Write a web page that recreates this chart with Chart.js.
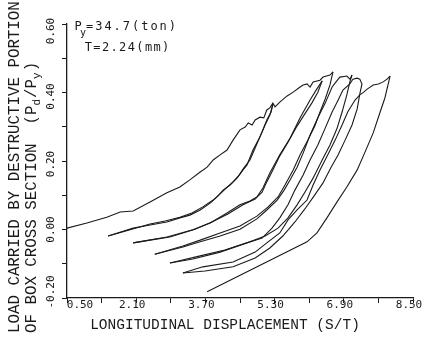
<!DOCTYPE html>
<html>
<head>
<meta charset="utf-8">
<script src="https://cdn.jsdelivr.net/npm/chart.js@4.4.0/dist/chart.umd.min.js"></script>
<style>
  html, body { margin: 0; padding: 0; background: #fff; }
  #wrap { width: 422px; height: 341px; }
</style>
</head>
<body>
<div id="wrap"><canvas id="myChart" width="422" height="341"></canvas></div>
<script>
// axis ticks and labels
const xTickValues = [0.5, 1.3, 2.1, 2.9, 3.7, 4.5, 5.3, 6.1, 6.9, 7.7, 8.5]
const xLabelValues = [0.5, 2.1, 3.7, 5.3, 6.9, 8.5]
const xLabels = ['0.50', '2.10', '3.70', '5.30', '6.90', '8.50']
const yTickValues = [-0.2, -0.1, 0, 0.1, 0.2, 0.3, 0.4, 0.5, 0.6]
const yLabelValues = [-0.2, 0, 0.2, 0.4, 0.6]
const yLabels = ['-0.20', '0.00', '0.20', '0.40', '0.60']

// first loading (envelope) up to the first big peak
const envelope = [[0.50,0.004],[0.96,0.019],[1.42,0.036],[1.73,0.051],[2.03,0.054],[2.42,0.080],
  [2.81,0.107],[3.11,0.124],[3.34,0.145],[3.58,0.168],[3.74,0.182],[3.88,0.203],[4.04,0.218],
  [4.20,0.232],[4.34,0.261],[4.50,0.291],[4.62,0.299],[4.69,0.311],[4.78,0.305],[4.85,0.320],
  [4.96,0.328],[5.05,0.326],[5.12,0.349],[5.19,0.355],[5.26,0.369],[5.31,0.358],[5.42,0.372],
  [5.59,0.390],[5.73,0.401],[5.89,0.416],[5.96,0.422],[6.05,0.425],[6.12,0.416],[6.19,0.431],
  [6.35,0.436],[6.42,0.445],[6.58,0.451],[6.65,0.460]]

// cycle 1
const loop1Up = [[1.45,-0.019],[2.03,0.004],[2.42,0.013],[2.81,0.022],[3.11,0.034],[3.34,0.042],
  [3.58,0.057],[3.81,0.077],[3.97,0.095],[4.11,0.115],[4.27,0.130],[4.43,0.150],[4.57,0.174],
  [4.66,0.188],[4.80,0.232],[4.96,0.270],[5.08,0.305],[5.19,0.334],[5.26,0.366]]
const loop1Down = [[5.26,0.366],[5.22,0.343],[5.12,0.320],[5.01,0.285],[4.87,0.244],[4.73,0.203],
  [4.59,0.180],[4.48,0.159],[4.34,0.139],[4.18,0.121],[4.04,0.104],[3.88,0.086],[3.64,0.066],
  [3.39,0.048],[3.11,0.036],[2.77,0.025],[2.42,0.016],[1.96,-0.001],[1.45,-0.019]]

// cycle 2
const loop2Up = [[2.03,-0.039],[2.81,-0.022],[3.41,-0.001],[3.81,0.019],[4.20,0.048],[4.50,0.072],
  [4.73,0.083],[4.89,0.095],[5.03,0.121],[5.19,0.165],[5.42,0.218],[5.66,0.267],[5.89,0.326],
  [6.12,0.378],[6.26,0.407],[6.40,0.434]]
const loop2Down = [[6.40,0.434],[6.30,0.401],[6.16,0.369],[5.98,0.334],[5.79,0.296],[5.61,0.255],
  [5.42,0.215],[5.26,0.174],[5.12,0.139],[5.01,0.109],[4.85,0.089],[4.57,0.072],[4.22,0.045],
  [3.85,0.022],[3.46,0.001],[2.88,-0.022],[2.42,-0.031],[2.03,-0.039]]

// cycle 3
const loop3Up = [[2.53,-0.072],[3.18,-0.051],[3.58,-0.036],[4.04,-0.019],[4.50,0.001],[4.89,0.031],
  [5.12,0.057],[5.36,0.086],[5.52,0.115],[5.66,0.145],[5.82,0.182],[5.96,0.223],[6.12,0.276],
  [6.30,0.326],[6.47,0.369],[6.63,0.416],[6.72,0.431],[6.81,0.445],[6.97,0.448],[7.04,0.439],
  [7.09,0.451]]
const loop3Down = [[6.65,0.460],[6.58,0.422],[6.47,0.381],[6.35,0.343],[6.23,0.302],[6.07,0.261],
  [5.89,0.218],[5.73,0.174],[5.54,0.130],[5.38,0.095],[5.15,0.066],[4.89,0.039],[4.50,0.010],
  [4.04,-0.010],[3.58,-0.031],[3.18,-0.048],[2.53,-0.072]]

// cycle 4
const loop4Up = [[2.88,-0.098],[3.41,-0.086],[4.04,-0.066],[4.66,-0.039],[5.01,-0.025],[5.24,0.004],
  [5.42,0.034],[5.61,0.072],[5.77,0.115],[5.96,0.159],[6.12,0.203],[6.30,0.247],[6.47,0.296],
  [6.63,0.343],[6.77,0.378],[6.88,0.407],[7.04,0.425],[7.11,0.439],[7.21,0.442],[7.27,0.439],
  [7.32,0.425],[7.27,0.396]]
const loop4Down = [[7.09,0.451],[7.04,0.431],[6.97,0.393],[6.86,0.343],[6.74,0.294],[6.58,0.247],
  [6.40,0.203],[6.19,0.150],[6.00,0.109],[5.82,0.072],[5.61,0.034],[5.38,0.004],[5.08,-0.019],
  [4.73,-0.036],[4.15,-0.060],[3.58,-0.077],[2.88,-0.098]]

// cycle 5
const loop5Up = [[3.18,-0.127],[3.64,-0.109],[4.34,-0.095],[4.85,-0.066],[5.12,-0.039],[5.42,-0.010],
  [5.61,0.028],[5.82,0.057],[6.05,0.086],[6.19,0.130],[6.35,0.174],[6.53,0.218],[6.70,0.261],
  [6.86,0.305],[6.99,0.343],[7.16,0.378],[7.27,0.393],[7.36,0.401],[7.44,0.410],[7.58,0.422],
  [7.70,0.425],[7.81,0.431],[7.90,0.439],[7.97,0.448]]
const loop5Down = [[7.27,0.396],[7.21,0.352],[7.09,0.305],[6.93,0.261],[6.77,0.218],[6.60,0.180],
  [6.42,0.136],[6.23,0.101],[6.00,0.060],[5.77,0.022],[5.49,-0.019],[5.19,-0.054],[4.85,-0.083],
  [4.34,-0.109],[3.69,-0.121],[3.18,-0.127]]

// last unloading
const finalDown = [[7.97,0.448],[7.85,0.384],[7.74,0.343],[7.58,0.282],[7.39,0.226],[7.21,0.174],
  [6.97,0.124],[6.74,0.080],[6.51,0.034],[6.28,-0.010],[6.05,-0.036],[3.74,-0.182]]

const curves = [envelope, loop1Up, loop1Down, loop2Up, loop2Down, loop3Up, loop3Down,
  loop4Up, loop4Down, loop5Up, loop5Down, finalDown]

const ink = '#1a1a1a'

// all the text is drawn here: rotated y labels, subscripts, spaced note
const textPlugin = {
  id: 'texts',
  afterDraw(chart) {
    const c = chart.ctx
    const xs = chart.scales.x
    const ys = chart.scales.y
    c.save()
    c.fillStyle = ink

    // x tick labels
    c.font = '11px "DejaVu Sans Mono"'
    c.textAlign = 'center'
    c.textBaseline = 'middle'
    xLabelValues.forEach((v, i) => {
      let px = xs.getPixelForValue(v) - 4
      if (i === 0) px += 17
      c.fillText(xLabels[i], px, 305)
    })

    // y tick labels, rotated
    const shift = [-6, 0, 3, 4, 7]
    yLabelValues.forEach((v, i) => {
      c.save()
      c.translate(51, ys.getPixelForValue(v) + shift[i])
      c.rotate(-Math.PI / 2)
      c.fillText(yLabels[i], 0, 0)
      c.restore()
    })

    // x title
    c.font = '14.5px "Liberation Mono"'
    c.fillText('LONGITUDINAL DISPLACEMENT (S/T)', 225, 325)

    // y title (two lines)
    c.textAlign = 'left'
    c.save()
    c.translate(15, 333)
    c.rotate(-Math.PI / 2)
    c.font = '15.8px "Liberation Mono"'
    c.fillText('LOAD CARRIED BY DESTRUCTIVE PORTION', 0, 0)
    c.restore()

    c.save()
    c.translate(32, 333)
    c.rotate(-Math.PI / 2)
    const big = '15.8px "Liberation Mono"'
    const small = '11px "Liberation Mono"'
    let pos = 0
    const parts = [['OF BOX CROSS SECTION  (P', big, 0], ['d', small, 5], ['/P', big, 0], ['y', small, 5], [')', big, 0]]
    parts.forEach(p => {
      c.font = p[1]
      c.fillText(p[0], pos, p[2])
      pos += c.measureText(p[0]).width + (p[2] ? 1 : 0)
    })
    c.restore()

    // note in the top left corner
    c.font = '12px "DejaVu Sans Mono"'
    c.textAlign = 'center'
    c.fillText('P', 78, 27)
    c.font = '10px "DejaVu Sans Mono"'
    c.fillText('y', 83, 33)
    c.font = '12px "DejaVu Sans Mono"'
    const spaced = (txt, x0, y, pitch) => {
      for (let i = 0; i < txt.length; i++) c.fillText(txt[i], x0 + pitch * i + pitch / 2, y)
    }
    spaced('=34.7(ton)', 85, 27, 9.2)
    spaced('T=2.24(mm)', 84, 48, 8.6)
    c.restore()
  }
}

document.addEventListener('DOMContentLoaded', () => {
  const ctx = document.getElementById('myChart').getContext('2d')

  const datasets = curves.map(pts => ({
    data: pts.map(p => ({ x: p[0], y: p[1] })),
    showLine: true,
    borderColor: ink,
    borderWidth: 1.1,
    pointRadius: 0,
    tension: 0,
    fill: false
  }))

  new Chart(ctx, {
    type: 'scatter',
    data: { datasets: datasets },
    options: {
      responsive: false,
      animation: false,
      devicePixelRatio: 1,
      layout: { padding: { left: 0, right: 9, top: 24, bottom: 0 } },
      plugins: { legend: { display: false }, tooltip: { enabled: false } },
      scales: {
        x: {
          type: 'linear', min: 0.5, max: 8.5,
          ticks: { display: false },
          afterBuildTicks: s => { s.ticks = xTickValues.map(v => ({ value: v })) },
          grid: { drawOnChartArea: false, drawTicks: true, tickLength: 5, color: ink, lineWidth: 1 },
          border: { color: ink, width: 1.3 },
          afterFit: s => { s.height = 43 }
        },
        y: {
          type: 'linear', min: -0.2, max: 0.6,
          ticks: { display: false },
          afterBuildTicks: s => { s.ticks = yTickValues.map(v => ({ value: v })) },
          grid: { drawOnChartArea: false, drawTicks: true, tickLength: 5, color: ink, lineWidth: 1 },
          border: { color: ink, width: 1.3 },
          afterFit: s => { s.width = 67 }
        }
      }
    },
    plugins: [textPlugin]
  })
})
</script>
</body>
</html>
